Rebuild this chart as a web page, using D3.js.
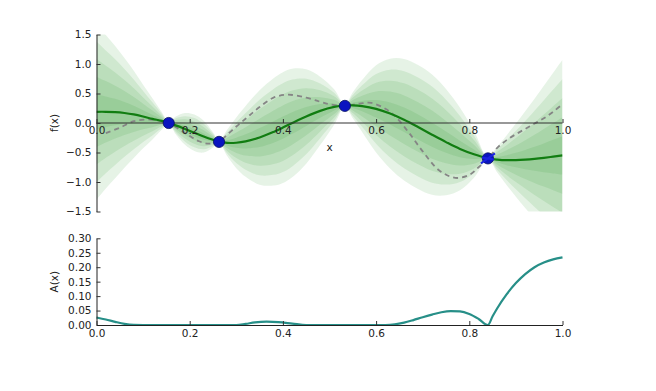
<!DOCTYPE html>
<html>
<head>
<meta charset="utf-8">
<script src="https://cdn.jsdelivr.net/npm/d3@7"></script>
<style>
  html, body { margin: 0; padding: 0; background: #fff; }
  svg text { font-family: "DejaVu Sans", sans-serif; }
</style>
</head>
<body>
<svg id="chart" width="656" height="391"></svg>
<script>
// ---- data ----
const gridX = [0, .02, .04, .06, .08, .10, .12, .14, .155, .17, .19, .21, .23, .25, .263, .28, .30, .32, .35, .38, .40, .42, .45, .48, .51, .533, .55, .57, .60, .63, .66, .69, .72, .75, .78, .81, .84, .86, .88, .90, .92, .94, .96, .98, 1.0];
const meanY = [.19, .19, .185, .17, .145, .11, .07, .035, .0, -.04, -.10, -.165, -.23, -.285, -.315, -.337, -.335, -.312, -.246, -.151, -.078, .0, .111, .206, .272, .297, .30, .287, .24, .16, .055, -.068, -.198, -.324, -.44, -.53, -.598, -.62, -.63, -.628, -.62, -.607, -.59, -.57, -.55];
// half-width of the outermost band
const outerHalf = [1.49, 1.30, 1.12, .93, .74, .54, .35, .15, .02, .15, .27, .31, .27, .13, .02, .22, .43, .60, .80, .91, .94, .92, .80, .58, .30, .02, .22, .44, .74, .93, 1.03, 1.05, 1.02, .90, .70, .40, .02, .22, .42, .62, .82, 1.02, 1.22, 1.42, 1.62];
const bandLevels = [5, 4, 3, 2, 1];   // fractions (k/5) of the outer half-width

const trueX = [.02, .05, .08, .11, .135, .155, .18, .20, .22, .24, .263, .28, .30, .315, .33, .35, .38, .41, .45, .48, .50, .533, .565, .59, .62, .64, .67, .70, .735, .77, .80, .82, .84, .86, .88, .90, .92, .94, .96, .98, 1.0];
const trueY = [-.17, -.08, .03, .06, .04, .0, -.12, -.22, -.31, -.35, -.32, -.20, -.06, .04, .14, .27, .43, .48, .43, .36, .32, .29, .33, .34, .24, .12, -.16, -.48, -.80, -.93, -.88, -.75, -.60, -.42, -.29, -.19, -.10, -.01, .08, .19, .32];

const obsX = [.155, .263, .533, .84];
const obsY = [.0, -.32, .29, -.60];

const acqX = [0, .02, .04, .06, .08, .10, .30, .32, .34, .365, .39, .42, .45, .60, .62, .64, .66, .68, .70, .72, .74, .76, .78, .80, .82, .84, .85, .86, .88, .90, .92, .94, .96, .98, 1.0];
const acqY = [.026, .019, .011, .004, .0005, 0, 0, .004, .009, .0115, .01, .005, 0, 0, 0, .002, .008, .017, .027, .036, .044, .048, .047, .038, .021, 0, .03, .058, .106, .145, .176, .200, .216, .227, .234];

const xTicks = [0, .2, .4, .6, .8, 1.0];
const fTicks = [-1.5, -1.0, -0.5, 0.0, 0.5, 1.0, 1.5];
const aTicks = [0, .05, .10, .15, .20, .25, .30];

// ---- drawing ----
const svg = d3.select("#chart");
const x = d3.scaleLinear().domain([0, 1]).range([96.5, 562.5]);
const yF = d3.scaleLinear().domain([-1.5, 1.5]).range([211.5, 34.5]);
const yA = d3.scaleLinear().domain([0, 0.3]).range([325, 238.3]);

svg.append("defs").append("clipPath").attr("id", "clipTop")
  .append("rect").attr("x", x(0)).attr("y", yF(1.5)).attr("width", x(1) - x(0)).attr("height", yF(-1.5) - yF(1.5));

const topG = svg.append("g").attr("clip-path", "url(#clipTop)");
const pts = gridX.map((gx, i) => ({ x: gx, m: meanY[i], s: outerHalf[i] }));
const smooth = d3.curveCatmullRom.alpha(0.5);

bandLevels.forEach(k => {
  const area = d3.area()
    .x(d => x(d.x))
    .y0(d => yF(d.m - d.s * k / 5))
    .y1(d => yF(d.m + d.s * k / 5))
    .curve(smooth);
  topG.append("path").datum(pts).attr("d", area)
    .attr("fill", "#108a10").attr("fill-opacity", 0.105).attr("stroke", "none");
});

// true function (dashed)
topG.append("path").datum(trueX.map((t, i) => [t, trueY[i]]))
  .attr("d", d3.line().x(d => x(d[0])).y(d => yF(d[1])).curve(smooth))
  .attr("fill", "none").attr("stroke", "#858585").attr("stroke-width", 1.8)
  .attr("stroke-dasharray", "5,4");

// zero axis line
svg.append("line").attr("x1", x(0)).attr("x2", x(1)).attr("y1", yF(0)).attr("y2", yF(0))
  .attr("stroke", "#333").attr("stroke-width", 1.2);

// posterior mean
topG.append("path").datum(pts)
  .attr("d", d3.line().x(d => x(d.x)).y(d => yF(d.m)).curve(smooth))
  .attr("fill", "none").attr("stroke", "#117d11").attr("stroke-width", 2.2);

// observations
obsX.forEach((ox, i) => {
  svg.append("circle").attr("cx", x(ox)).attr("cy", yF(obsY[i])).attr("r", 5.6)
    .attr("fill", "#0a14c0").attr("stroke", "#061060").attr("stroke-width", 0.8);
});
// extra marker strokes on the last observation
{
  const cx = x(obsX[3]), cy = yF(obsY[3]);
  svg.append("path").attr("d", `M${cx - 7},${cy + 5}L${cx + 7},${cy - 5}M${cx - 6},${cy - 1}L${cx + 6},${cy + 1}`)
    .attr("stroke", "#1a22e0").attr("stroke-width", 2).attr("fill", "none");
}

// top axes
svg.append("g").attr("transform", `translate(${x(0)},0)`)
  .call(d3.axisLeft(yF).tickValues(fTicks).tickFormat(d3.format(".1f")).tickSizeInner(-4).tickSizeOuter(0).tickPadding(5));
const xAxisTop = svg.append("g").attr("transform", `translate(0,${yF(0)})`)
  .call(d3.axisBottom(x).tickValues(xTicks).tickFormat(d3.format(".1f")).tickSizeInner(-4).tickSizeOuter(0).tickPadding(4));
xAxisTop.select(".domain").remove();

// bottom plot
svg.append("path").datum(acqX.map((a, i) => [a, acqY[i]]))
  .attr("d", d3.line().x(d => x(d[0])).y(d => yA(d[1])).curve(d3.curveMonotoneX))
  .attr("fill", "none").attr("stroke", "#278f88").attr("stroke-width", 2.2);

svg.append("g").attr("transform", `translate(${x(0)},0)`)
  .call(d3.axisLeft(yA).tickValues(aTicks).tickFormat(d3.format(".2f")).tickSizeInner(-4).tickSizeOuter(0).tickPadding(5));
svg.append("g").attr("transform", `translate(0,${yA(0)})`)
  .call(d3.axisBottom(x).tickValues(xTicks).tickFormat(d3.format(".1f")).tickSizeInner(-4).tickSizeOuter(0).tickPadding(5));

svg.selectAll(".tick text").attr("font-size", 10.5).attr("fill", "#222").attr("font-family", "DejaVu Sans");
svg.selectAll(".tick line").attr("stroke", "#333");
svg.selectAll(".domain").attr("stroke", "#222");

// axis labels
svg.append("text").attr("transform", `translate(58,${yF(0)}) rotate(-90)`)
  .attr("text-anchor", "middle").attr("font-size", 10.5).attr("fill", "#222").text("f(x)");
svg.append("text").attr("transform", `translate(58,${(yA(0) + yA(0.3)) / 2}) rotate(-90)`)
  .attr("text-anchor", "middle").attr("font-size", 10.5).attr("fill", "#222").text("A(x)");
svg.append("text").attr("x", 329.5).attr("y", 151).attr("text-anchor", "middle")
  .attr("font-size", 10.5).attr("fill", "#222").text("x");
</script>
</body>
</html>
